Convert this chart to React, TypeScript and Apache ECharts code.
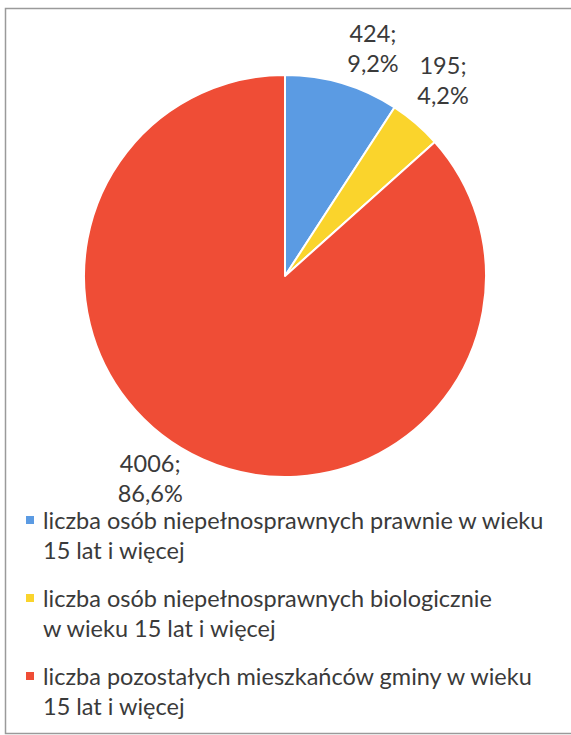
import React, { useEffect, useRef } from "react";
import * as echarts from "echarts";

const CATEGORIES = [
  "liczba osób niepełnosprawnych prawnie w wieku\n15 lat i więcej",
  "liczba osób niepełnosprawnych biologicznie\nw wieku 15 lat i więcej",
  "liczba pozostałych mieszkańców gminy w wieku\n15 lat i więcej",
];
const VALUES = [424, 195, 4006];
const COLORS = ["#5B9BE3", "#FAD42C", "#EF4D36"];

// label placement styling: angle nudge (deg) and radial factor relative to radius
const LABEL_PLACEMENT = [
  { nudge: 4.6, k: 1.216 },
  { nudge: -1.7, k: 1.252 },
  { nudge: 9.6, k: 1.209 },
];

const CENTER: [number, number] = [285, 276];
const RADIUS = 201;
const FONT = "Lato";
const FS = 23.5;
const TEXT_COLOR = "#3a3a3a";

export default function App() {
  const ref = useRef<HTMLDivElement>(null);
  useEffect(() => {
    if (!ref.current) return;
    const chart = echarts.init(ref.current, null, { renderer: "svg" });
    const total = VALUES.reduce((a, b) => a + b, 0);
    const pct = (v: number) => ((v / total) * 100).toFixed(1).replace(".", ",") + "%";
    const cum: number[] = [];
    let acc = 0;
    VALUES.forEach((v) => {
      cum.push(acc + v / 2);
      acc += v;
    });

    const rich: Record<string, any> = {
      g: { width: 9 },
      ind: { width: 17 },
      t: { fontSize: FS, lineHeight: 30, color: TEXT_COLOR, fontFamily: FONT },
    };
    COLORS.forEach((c, i) => {
      rich["m" + i] = { width: 8, height: 8, backgroundColor: c };
    });

    chart.setOption({
      animation: false,
      backgroundColor: "#ffffff",
      graphic: [
        {
          type: "rect",
          shape: { x: 5.5, y: 8.5, width: 600, height: 725 },
          style: { fill: "none", stroke: "#9a9a9a", lineWidth: 1.5 },
          silent: true,
        },
      ],
      legend: {
        orient: "vertical",
        left: 20,
        top: 505,
        itemWidth: 0,
        itemHeight: 0,
        itemGap: 18,
        padding: 0,
        selectedMode: false,
        data: CATEGORIES,
        formatter: (name: string) => {
          const i = CATEGORIES.indexOf(name);
          const [l1, l2] = name.split("\n");
          return `{m${i}|}{g|}{t|${l1}}\n{ind|}{t|${l2}}`;
        },
        textStyle: { fontFamily: FONT, fontSize: FS, color: TEXT_COLOR, lineHeight: 30, rich },
      },
      series: [
        {
          type: "pie",
          center: CENTER,
          radius: RADIUS,
          startAngle: 90,
          clockwise: true,
          silent: true,
          emphasis: { disabled: true },
          itemStyle: { borderColor: "#ffffff", borderWidth: 2 },
          label: {
            show: true,
            position: "outside",
            formatter: (p: any) => `${p.value};\n${pct(p.value)}`,
            fontFamily: FONT,
            fontSize: FS,
            lineHeight: 30,
            color: TEXT_COLOR,
            align: "center",
          },
          labelLine: { show: false },
          labelLayout: (params: any) => {
            const i = params.dataIndex;
            const pl = LABEL_PLACEMENT[i];
            const ang = ((cum[i] / total) * 360 + pl.nudge) * (Math.PI / 180);
            const r = RADIUS * pl.k;
            return {
              x: CENTER[0] + r * Math.sin(ang),
              y: CENTER[1] - r * Math.cos(ang),
              align: "center",
              verticalAlign: "middle",
            };
          },
          data: CATEGORIES.map((name, i) => ({
            name,
            value: VALUES[i],
            itemStyle: { color: COLORS[i] },
          })),
        },
      ],
    });
    return () => chart.dispose();
  }, []);
  return (
    <div
      ref={ref}
      style={{ position: "absolute", left: 0, top: 0, width: 571, height: 735 }}
    />
  );
}
